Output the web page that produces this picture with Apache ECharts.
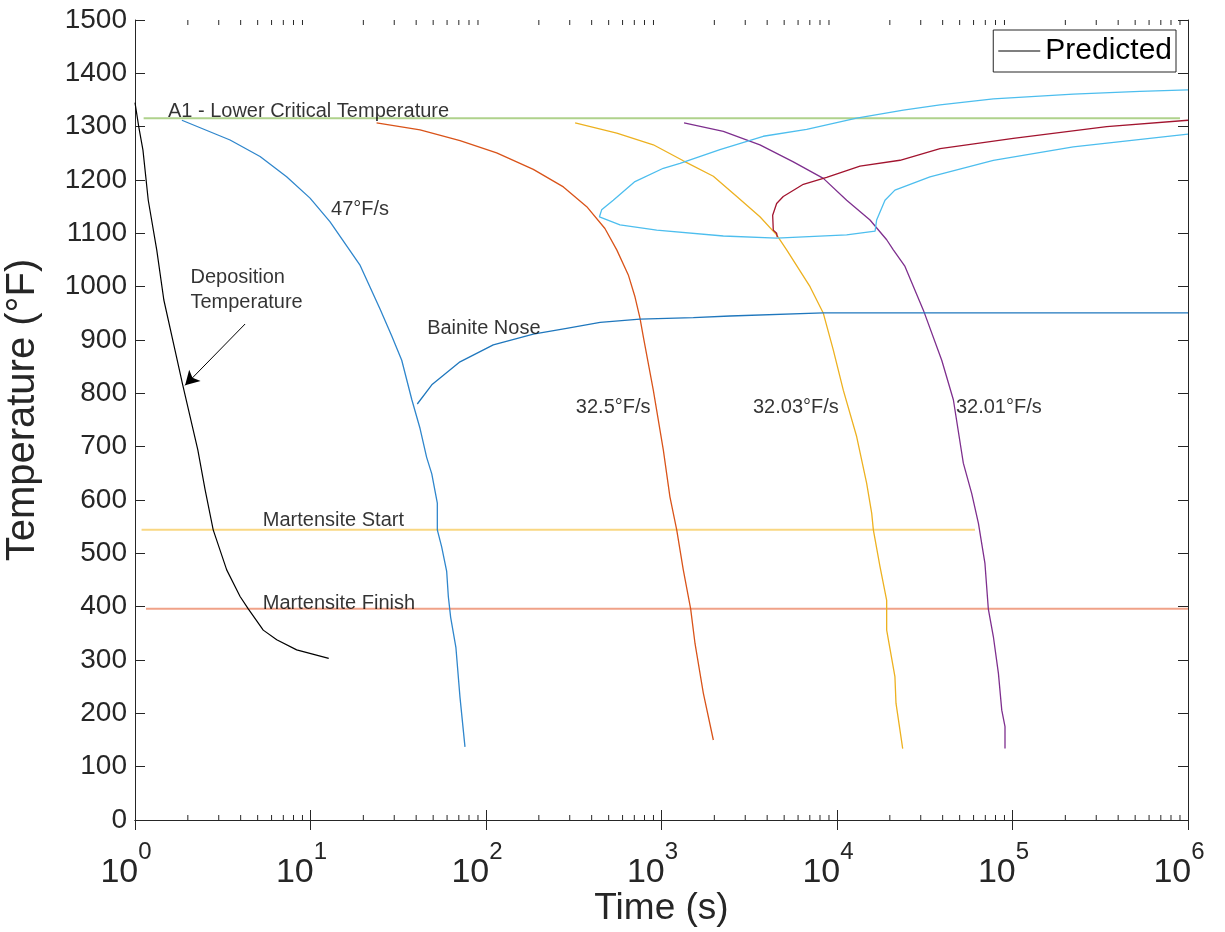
<!DOCTYPE html>
<html>
<head>
<meta charset="utf-8">
<script src="https://cdn.jsdelivr.net/npm/echarts@6/dist/echarts.min.js"></script>
<style>
  html, body { margin: 0; padding: 0; background: #fff; }
  #chart { width: 1225px; height: 932px; }
</style>
</head>
<body>
<div id="chart"></div>
<script>
// Continuous cooling curves: [time (s), temperature (°F)]
const predicted = [[1,1345],[1.05,1300],[1.11,1256],[1.19,1162],[1.33,1069],[1.46,975],[1.69,881],[1.87,816],[2.28,694],[2.51,619],[2.79,544],[3.33,469],[3.97,419],[4.42,396],[5.38,356],[6.42,338],[8.34,319],[12.7,303]];
const rate47 = [[1.85,1312],[3.48,1275],[5.16,1244],[7.31,1206],[9.94,1166],[12.9,1122],[19.1,1041],[24.9,958],[29.0,908],[33.1,862],[37.8,788],[42.1,734],[45.9,680],[49.1,649],[52.8,594],[52.8,544],[55.9,512],[59.7,466],[61.0,419],[62.9,380],[67.4,323],[71.1,230],[75.9,137]];
const rate32_5 = [[23.8,1307],[42.1,1294],[71.1,1274],[115,1251],[186,1220],[276,1187],[375,1150],[476,1109],[556,1069],[647,1022],[706,981],[754,941],[788,906],[898,806],[1024,694],[1117,606],[1221,544],[1331,469],[1466,396],[1552,331],[1731,238],[1974,150]];
const rate32_03 = [[322,1307],[556,1288],[898,1266],[1331,1236],[1974,1207],[2685,1169],[3638,1131],[4529,1097],[5166,1069],[7020,1000],[8360,950],[9530,881],[10860,806],[12940,719],[14760,631],[15770,575],[16110,544],[17580,475],[19190,412],[19190,356],[21380,269],[21680,219],[23680,134]];
const rate32_01 = [[1344,1307],[2251,1291],[3638,1266],[5637,1234],[8360,1203],[11350,1162],[15420,1125],[19190,1088],[20940,1069],[24400,1038],[31050,956],[39520,862],[46030,788],[52460,669],[58580,612],[63960,556],[69660,481],[72800,396],[77780,344],[83130,275],[86860,206],[90630,175],[90630,134]];
const bainiteNose = [[40.6,780],[49.1,816],[71.1,859],[110,891],[186,911],[288,922],[447,933],[754,939],[1518,942],[2457,945],[8360,951],[1000000,951]];
const transformStart = [[1000000,1369],[532000,1366],[222000,1361],[77780,1352],[38640,1341],[23880,1331],[12940,1316],[6720,1295],[3800,1282],[2153,1257],[1275,1231],[1024,1222],[706,1197],[531,1162],[456,1144],[443,1131],[580,1116],[939,1106],[2251,1095],[4529,1091],[11350,1097],[16480,1104],[16820,1125],[18770,1162],[21380,1181],[33850,1206],[77780,1237],[222000,1262],[1000000,1286]];
const transformFinish = [[4570,1093],[4530,1100],[4335,1106],[4300,1134],[4529,1156],[4940,1169],[6430,1192],[8730,1205],[13520,1226],[22870,1237],[38640,1259],[101000,1278],[344000,1300],[1000000,1312]];

// Reference temperatures
const a1Line = [[1.12,1316],[900000,1316]];
const msLine = [[1.09,544],[61100,544]];
const mfLine = [[1.155,396],[1000000,396]];

// Text annotations and their anchor points (left edge, vertical centre)
const annotationText = ['A1 - Lower Critical Temperature','47°F/s','Deposition\nTemperature','Bainite Nose','32.5°F/s','32.03°F/s','32.01°F/s','Martensite Start','Martensite Finish'];
const annotationAt = [[1.54,1328],[13.1,1144],[2.07,993],[46.2,922],[325,774],[3320,774],[47600,774],[5.35,561],[5.35,406]];

// Arrow pointing at the deposition curve
const arrowFrom = [4.24,930];
const arrowTo = [1.93,815];

// Axis ticks
const yTickStep = 100;
const yMin = 0, yMax = 1500;
const xMin = 1, xMax = 1000000;
const minorTicks = [];
for (let e = 0; e < 6; e++) for (let k = 2; k <= 9; k++) minorTicks.push([k * Math.pow(10, e)]);

const FONT = 'Liberation Sans, Arial, Helvetica, sans-serif';
const AXIS = '#262626';

const chart = echarts.init(document.getElementById('chart'), null, { renderer: 'canvas' });

function curve(name, data, color, width) {
  return {
    name, type: 'line', data, showSymbol: false, symbol: 'none',
    lineStyle: { color, width }, itemStyle: { color }, silent: true, z: 3
  };
}

const option = {
  animation: false,
  backgroundColor: '#fff',
  grid: { left: 135, right: 37, top: 20, bottom: 112, containLabel: false, outerBoundsMode: 'none' },
  legend: {
    data: [{ name: 'Predicted', icon: 'rect' }], right: 49, top: 30,
    backgroundColor: '#fff', borderColor: AXIS, borderWidth: 1, borderRadius: 0,
    padding: [4, 4, 4, 5], itemWidth: 42, itemHeight: 1.2, itemGap: 2,
    itemStyle: { color: '#000' },
    textStyle: { fontSize: 30, color: '#000', fontFamily: FONT, lineHeight: 34 }
  },
  xAxis: [{
    type: 'log', logBase: 10, min: xMin, max: xMax, splitNumber: 6,
    axisLine: { show: true, lineStyle: { color: AXIS, width: 1 } },
    axisTick: { show: true, inside: true, length: 10, lineStyle: { color: AXIS } },
    splitLine: { show: false },
    axisLabel: {
      margin: 20, color: AXIS, padding: [0, 18, 0, 0],
      formatter: v => '{b|10}{s|' + Math.round(Math.log10(v)) + '}',
      rich: {
        b: { fontSize: 34, fontFamily: FONT, color: AXIS, lineHeight: 50, verticalAlign: 'bottom' },
        s: { fontSize: 24, fontFamily: FONT, color: AXIS, lineHeight: 10, verticalAlign: 'top' }
      }
    },
    name: 'Time (s)', nameLocation: 'middle', nameGap: 70, nameMoveOverlap: false,
    nameTextStyle: { fontSize: 37, color: AXIS, fontFamily: FONT }
  }, {
    type: 'log', logBase: 10, min: xMin, max: xMax, splitNumber: 6, position: 'top',
    axisLine: { show: true, lineStyle: { color: AXIS, width: 1 } },
    axisTick: { show: true, inside: true, length: 10, lineStyle: { color: AXIS } },
    axisLabel: { show: false }, splitLine: { show: false }
  }],
  yAxis: [{
    type: 'value', min: yMin, max: yMax, interval: yTickStep,
    axisLine: { show: true, lineStyle: { color: AXIS, width: 1 } },
    axisTick: { show: true, inside: true, length: 10, lineStyle: { color: AXIS } },
    splitLine: { show: false },
    axisLabel: { margin: 8, fontSize: 28, color: AXIS, fontFamily: FONT, formatter: v => String(v) },
    name: 'Temperature (°F)', nameLocation: 'middle', nameGap: 92, nameMoveOverlap: false,
    nameTextStyle: { fontSize: 40, color: AXIS, fontFamily: FONT, padding: [0, 0, 0, 20] }
  }, {
    type: 'value', min: yMin, max: yMax, interval: yTickStep, position: 'right',
    axisLine: { show: true, lineStyle: { color: AXIS, width: 1 } },
    axisTick: { show: true, inside: true, length: 10, lineStyle: { color: AXIS } },
    axisLabel: { show: false }, splitLine: { show: false }
  }],
  series: [
    // minor decade ticks on bottom and top edges
    {
      type: 'custom', silent: true, clip: false, z: 1,
      data: minorTicks,
      renderItem: (params, api) => {
        const b = api.coord([api.value(0), yMin]);
        const t = api.coord([api.value(0), yMax]);
        const style = { stroke: AXIS, lineWidth: 1 };
        return {
          type: 'group', children: [
            { type: 'line', shape: { x1: b[0], y1: b[1], x2: b[0], y2: b[1] - 5 }, style },
            { type: 'line', shape: { x1: t[0], y1: t[1], x2: t[0], y2: t[1] + 5 }, style }
          ]
        };
      }
    },
    curve('A1', a1Line, '#afd28c', 2),
    curve('Ms', msLine, '#f9d782', 2),
    curve('Mf', mfLine, '#f0a288', 2),
    curve('47°F/s', rate47, '#2f86cc', 1.3),
    curve('32.5°F/s', rate32_5, '#D95319', 1.3),
    curve('32.03°F/s', rate32_03, '#EDB120', 1.3),
    curve('32.01°F/s', rate32_01, '#7E2F8E', 1.3),
    curve('Bainite Nose', bainiteNose, '#1f77bd', 1.3),
    curve('Transformation start', transformStart, '#4DBEEE', 1.3),
    curve('Transformation finish', transformFinish, '#A2142F', 1.3),
    Object.assign(curve('Predicted', predicted, '#000000', 1.2), {
      markLine: {
        silent: true, symbol: ['none', 'arrow'], symbolSize: [12, 14],
        lineStyle: { color: '#000', type: 'solid', width: 1 },
        label: { show: false },
        data: [[{ coord: arrowFrom }, { coord: arrowTo }]]
      }
    }),
    {
      type: 'scatter', silent: true, symbolSize: 0, z: 5,
      data: annotationAt.map((p, i) => ({ value: p, label: { formatter: annotationText[i] } })),
      label: {
        show: true, position: 'right', distance: 0, fontSize: 20, lineHeight: 25,
        color: '#000', fontFamily: FONT, align: 'left'
      }
    }
  ]
};
chart.setOption(option);
</script>
</body>
</html>
